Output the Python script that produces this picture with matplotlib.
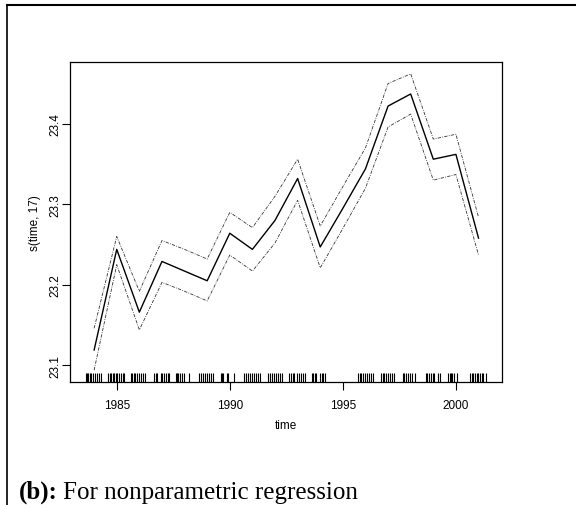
import numpy as np
import matplotlib
matplotlib.use("Agg")
import matplotlib.pyplot as plt
from matplotlib.lines import Line2D

# fitted smooth s(time, 17) with +/- 2 se bands
years = [1984, 1985, 1986, 1987, 1988, 1989, 1990, 1991, 1992,
         1993, 1994, 1995, 1996, 1997, 1998, 1999, 2000, 2001]
fit = [23.119, 23.244, 23.166, 23.229, 23.217, 23.205, 23.264, 23.244, 23.280,
       23.332, 23.247, 23.295, 23.344, 23.422, 23.437, 23.356, 23.362, 23.258]
upper = [23.146, 23.260, 23.192, 23.255, 23.244, 23.232, 23.290, 23.271, 23.310,
         23.356, 23.273, 23.322, 23.370, 23.450, 23.462, 23.381, 23.387, 23.284]
lower = [23.094, 23.225, 23.144, 23.203, 23.192, 23.180, 23.237, 23.217, 23.252,
         23.305, 23.221, 23.270, 23.320, 23.396, 23.412, 23.330, 23.337, 23.237]

# observation times shown as the rug
rug = [1983.64, 1983.68, 1983.72, 1983.80, 1983.85, 1983.93, 1984.05, 1984.12, 1984.22, 1984.31,
       1984.63, 1984.70, 1984.76, 1984.85, 1984.90, 1984.96, 1985.02, 1985.10, 1985.18, 1985.26, 1985.34,
       1985.63, 1985.68, 1985.76, 1985.82, 1985.90, 1986.00, 1986.08, 1986.18, 1986.27,
       1986.66, 1986.72, 1986.80, 1986.95, 1987.02, 1987.10, 1987.18, 1987.26, 1987.33,
       1987.62, 1987.66, 1987.72, 1987.78, 1987.90, 1987.98, 1988.20,
       1988.65, 1988.72, 1988.80, 1988.92, 1989.00, 1989.08, 1989.15, 1989.25,
       1989.61, 1989.66, 1989.72, 1989.88, 1989.94, 1990.20,
       1990.65, 1990.72, 1990.80, 1990.90, 1991.00, 1991.08, 1991.18, 1991.26, 1991.34,
       1991.71, 1991.78, 1991.86, 1991.96, 1992.05, 1992.12, 1992.22, 1992.30,
       1992.64, 1992.70, 1992.78, 1992.84, 1992.98, 1993.06, 1993.15, 1993.24, 1993.33,
       1993.63, 1993.68, 1993.75, 1993.80, 1994.00, 1994.06, 1994.14, 1994.22,
       1995.69, 1995.74, 1995.82, 1995.90, 1995.98, 1996.05, 1996.16, 1996.24, 1996.33,
       1996.69, 1996.76, 1996.84, 1996.92, 1997.00, 1997.08, 1997.18, 1997.27,
       1997.65, 1997.72, 1997.80, 1997.88, 1997.98, 1998.06, 1998.20,
       1998.67, 1998.74, 1998.80, 1998.90, 1999.00, 1999.05, 1999.20, 1999.31,
       1999.67, 1999.72, 1999.78, 1999.84, 1999.92, 2000.07,
       2000.63, 2000.70, 2000.76, 2000.84, 2000.92, 2000.98, 2001.06, 2001.14, 2001.22, 2001.33]

xticks = [1985, 1990, 1995, 2000]
yticks = [23.1, 23.2, 23.3, 23.4]

plt.rcParams['font.family'] = ['Liberation Sans', 'DejaVu Sans']

fig = plt.figure(figsize=(5.76, 5.06), dpi=100)
ax = fig.add_axes([0.1215, 0.2431, 0.75, 0.6324])

ax.plot(years, fit, color='black', lw=1.0)
ax.plot(years, upper, color='#333333', lw=0.6, dashes=(4, 1.5, 1, 1.5))
ax.plot(years, lower, color='#333333', lw=0.6, dashes=(4, 1.5, 1, 1.5))

# rug along the bottom, in axes fraction for height
ax.vlines(rug, 0, 0.029, transform=ax.get_xaxis_transform(), color='black', lw=0.8)

# R style 4% range extension
xr = max(rug) - min(rug)
ax.set_xlim(min(rug) - 0.04 * xr, max(rug) + 0.04 * xr)
yr = max(upper) - min(lower)
ax.set_ylim(min(lower) - 0.04 * yr, max(upper) + 0.04 * yr)

ax.set_xticks(xticks)
ax.set_xticklabels([str(t) for t in xticks])
ax.set_yticks(yticks)
ax.set_yticklabels(['%.1f' % t for t in yticks], rotation=90, va='center')
ax.tick_params(direction='out', length=6, width=0.8, labelsize=8.5)
ax.tick_params(axis='x', pad=6)
ax.tick_params(axis='y', pad=0.5)

for s in ax.spines.values():
    s.set_linewidth(0.9)

ax.set_xlabel('time', fontsize=8.5, labelpad=6)
ax.set_ylabel('s(time, 17)', fontsize=8.5, labelpad=6)

# outer frame from the document page
fig.add_artist(Line2D([7 / 576, 1], [1 - 6 / 506, 1 - 6 / 506], transform=fig.transFigure,
                      color='black', lw=1.5))
fig.add_artist(Line2D([7 / 576, 7 / 576], [0, 1 - 6 / 506], transform=fig.transFigure,
                      color='black', lw=1.2))

# caption with bold label
cy = 1 - 499 / 506
t1 = fig.text(19 / 576, cy, '(b):', fontsize=18, fontweight='bold',
              family='Liberation Serif', va='baseline')
fig.canvas.draw()
bb = t1.get_window_extent()
fig.text((bb.x1 + 5) / 576, cy, 'For nonparametric regression', fontsize=18,
         family='Liberation Serif', va='baseline')

fig.savefig('out.png', dpi=100)
